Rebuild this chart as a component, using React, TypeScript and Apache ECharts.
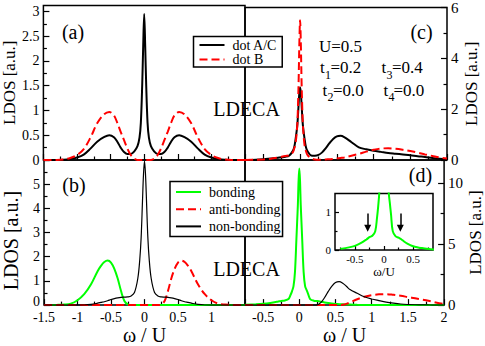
import React, { useEffect, useRef } from 'react';
import * as echarts from 'echarts';

// ---------- data ----------
// panel (a): omega/U grid and LDOS values
const xA = [-1.5, -1.3, -1.2, -1.1, -1.0, -0.9, -0.8, -0.7, -0.6, -0.52, -0.45, -0.4, -0.35, -0.3, -0.25, -0.2, -0.15, -0.1, -0.07, -0.05, -0.03, -0.015, 0, 0.015, 0.03, 0.05, 0.07, 0.1, 0.15, 0.2, 0.25, 0.3, 0.35, 0.4, 0.45, 0.52, 0.6, 0.7, 0.8, 0.9, 1.0, 1.1, 1.2, 1.3, 1.5];
const dotAC_a = [0, 0, 0.005, 0.02, 0.05, 0.11, 0.23, 0.37, 0.46, 0.5, 0.46, 0.37, 0.25, 0.16, 0.12, 0.12, 0.17, 0.28, 0.45, 0.75, 1.5, 2.3, 2.95, 2.3, 1.5, 0.75, 0.45, 0.28, 0.17, 0.12, 0.12, 0.16, 0.25, 0.37, 0.46, 0.5, 0.46, 0.37, 0.23, 0.11, 0.05, 0.02, 0.005, 0, 0];
const dotB_a = [0, 0, 0.01, 0.04, 0.1, 0.22, 0.45, 0.74, 0.92, 0.97, 0.9, 0.75, 0.57, 0.4, 0.23, 0.1, 0.03, 0, 0, 0, 0, 0, 0, 0, 0, 0, 0, 0, 0.03, 0.1, 0.23, 0.4, 0.57, 0.75, 0.9, 0.97, 0.92, 0.74, 0.45, 0.22, 0.1, 0.04, 0.01, 0, 0];

// panel (c)
const xC = [-0.75, -0.6, -0.5, -0.4, -0.3, -0.2, -0.15, -0.1, -0.08, -0.06, -0.04, -0.03, -0.02, -0.01, 0, 0.01, 0.02, 0.03, 0.04, 0.06, 0.08, 0.1, 0.15, 0.2, 0.25, 0.3, 0.35, 0.4, 0.45, 0.5, 0.55, 0.6, 0.7, 0.8, 0.9, 1.0, 1.1, 1.2, 1.3, 1.4, 1.5, 1.6, 1.7, 1.8, 1.9, 2.0];
const dotAC_c = [0, 0.01, 0.03, 0.06, 0.09, 0.13, 0.17, 0.35, 0.5, 0.85, 1.3, 1.7, 2.2, 2.65, 2.85, 2.65, 2.2, 1.7, 1.3, 0.85, 0.5, 0.35, 0.18, 0.17, 0.2, 0.3, 0.47, 0.66, 0.83, 0.93, 0.95, 0.9, 0.7, 0.5, 0.42, 0.36, 0.32, 0.28, 0.25, 0.22, 0.19, 0.15, 0.12, 0.08, 0.05, 0.03];
const dotB_c = [0, 0.01, 0.02, 0.05, 0.1, 0.16, 0.18, 0.3, 0.45, 0.7, 1.3, 2.0, 3.1, 4.6, 5.5, 4.6, 3.1, 2.0, 1.3, 0.6, 0.35, 0.2, 0.07, 0.02, 0.01, 0.01, 0.02, 0.03, 0.04, 0.06, 0.08, 0.1, 0.17, 0.24, 0.33, 0.4, 0.45, 0.46, 0.44, 0.4, 0.35, 0.29, 0.22, 0.16, 0.1, 0.06];

// panel (b)
const xB = [-1.5, -1.3, -1.2, -1.1, -1.0, -0.9, -0.8, -0.7, -0.65, -0.6, -0.55, -0.5, -0.45, -0.4, -0.35, -0.3, -0.25, -0.2, -0.15, -0.1, -0.07, -0.05, -0.03, -0.015, 0, 0.015, 0.03, 0.05, 0.07, 0.1, 0.15, 0.2, 0.25, 0.3, 0.35, 0.4, 0.45, 0.5, 0.55, 0.6, 0.65, 0.7, 0.8, 0.9, 1.0, 1.1, 1.2, 1.3, 1.5];
const bonding_b = [0, 0.01, 0.02, 0.06, 0.2, 0.45, 0.85, 1.4, 1.62, 1.78, 1.84, 1.76, 1.5, 1.1, 0.58, 0.17, 0.03, 0, 0, 0, 0, 0, 0, 0, 0, 0, 0, 0, 0, 0, 0, 0, 0, 0, 0, 0, 0, 0, 0, 0, 0, 0, 0, 0, 0, 0, 0, 0, 0];
const antiBonding_b = [0, 0, 0, 0, 0, 0, 0, 0, 0, 0, 0, 0, 0, 0, 0, 0, 0, 0, 0, 0, 0, 0, 0, 0, 0, 0, 0, 0, 0, 0, 0, 0, 0.03, 0.17, 0.58, 1.1, 1.5, 1.76, 1.84, 1.78, 1.62, 1.4, 0.85, 0.45, 0.2, 0.06, 0.02, 0.01, 0];
const nonBonding_b = [0, 0, 0, 0, 0, 0.005, 0.03, 0.08, 0.11, 0.14, 0.18, 0.23, 0.27, 0.3, 0.32, 0.33, 0.34, 0.38, 0.52, 1.1, 1.9, 2.8, 4.3, 5.4, 5.95, 5.4, 4.3, 2.8, 1.9, 1.1, 0.52, 0.38, 0.34, 0.33, 0.32, 0.3, 0.27, 0.23, 0.18, 0.14, 0.11, 0.08, 0.03, 0.005, 0, 0, 0, 0, 0];

// panel (d) and inset
const xD = [-0.75, -0.6, -0.5, -0.4, -0.3, -0.25, -0.2, -0.15, -0.12, -0.1, -0.08, -0.06, -0.04, -0.03, -0.02, -0.01, 0, 0.01, 0.02, 0.03, 0.04, 0.06, 0.08, 0.1, 0.12, 0.15, 0.2, 0.25, 0.3, 0.35, 0.4, 0.45, 0.5, 0.55, 0.6, 0.65, 0.7, 0.8, 0.9, 1.0, 1.1, 1.2, 1.3, 1.4, 1.5, 1.6, 1.7, 1.8, 1.9, 2.0];
const bonding_d = [0.03, 0.07, 0.11, 0.18, 0.28, 0.34, 0.38, 0.5, 0.85, 1.15, 1.55, 2.7, 5.4, 6.8, 8.2, 10.2, 11.2, 10.2, 8.2, 6.8, 5.4, 2.7, 1.55, 1.25, 0.95, 0.5, 0.36, 0.33, 0.28, 0.22, 0.17, 0.13, 0.1, 0.08, 0.06, 0.05, 0.04, 0.02, 0.01, 0, 0, 0, 0, 0, 0, 0, 0, 0, 0, 0];
const antiBonding_d = [0, 0, 0, 0, 0, 0, 0, 0, 0, 0, 0, 0, 0, 0, 0, 0, 0, 0, 0, 0, 0, 0, 0, 0, 0, 0, 0, 0, 0, 0, 0, 0, 0, 0, 0.02, 0.1, 0.22, 0.48, 0.68, 0.81, 0.88, 0.9, 0.84, 0.76, 0.66, 0.56, 0.45, 0.33, 0.2, 0.1];
const nonBonding_d = [0, 0, 0, 0, 0, 0, 0, 0, 0, 0, 0, 0, 0, 0, 0, 0, 0, 0, 0, 0, 0, 0, 0, 0, 0, 0, 0, 0.02, 0.22, 0.62, 1.12, 1.55, 1.85, 1.93, 1.8, 1.55, 1.27, 0.97, 0.68, 0.5, 0.37, 0.25, 0.16, 0.09, 0.05, 0.03, 0.02, 0.01, 0, 0];

// inset arrows (omega/U positions and heights)
const arrowX = [-0.28, 0.28];
const arrowFrom = 0.97;
const arrowTo = 0.58;

// ticks and tick labels
const xLeftMajor = [-1.5, -1, -0.5, 0, 0.5, 1, 1.5];
const xLeftMinor = [-1.25, -0.75, -0.25, 0.25, 0.75, 1.25];
const xLeftLabels = [-1.5, -1, -0.5, 0, 0.5, 1];
const xRightMajor = [-0.5, 0, 0.5, 1, 1.5, 2];
const xRightMinor = [-0.25, 0.25, 0.75, 1.25, 1.75];
const yTLMajor = [0, 0.5, 1, 1.5, 2, 2.5, 3];
const yTLMinor = [0.25, 0.75, 1.25, 1.75, 2.25, 2.75];
const yTRMajor = [0, 2, 4, 6];
const yTRMinor = [1, 3, 5];
const yBLMajor = [0, 1, 2, 3, 4, 5, 6];
const yBLMinor = [0.5, 1.5, 2.5, 3.5, 4.5, 5.5];
const yBLLabels = [0, 1, 2, 3, 4, 5];
const yBRMajor = [0, 5, 10];
const yBRMinor = [2.5, 7.5];
const insetXMajor = [-0.5, 0, 0.5];
const insetXMinor = [-0.75, -0.25, 0.25, 0.75];
const insetYMajor = [0, 1];
const insetYMinor = [0.5];

const legendTop = ['dot A/C', 'dot B'];
const legendBottom = ['bonding', 'anti-bonding', 'non-bonding'];

// ---------- styling ----------
const SERIF = 'Liberation Serif, Times New Roman, serif';
const BLACK = '#000000';
const RED = '#ff0000';
const GREEN = '#00ff00';

const mkAxis = (
  gridIndex: number,
  position: string,
  min: number,
  max: number,
  ticks: number[],
  tickLen: number,
  labels: number[] | null,
  fontSize: number,
  margin: number,
  extra: any = {},
  labelExtra: any = {}
) => ({
  type: 'value',
  gridIndex,
  position,
  min,
  max,
  axisLine: { show: false, onZero: false },
  splitLine: { show: false },
  minorTick: { show: false },
  axisTick: {
    show: true,
    inside: true,
    length: tickLen,
    customValues: ticks,
    lineStyle: { color: BLACK, width: 1.2 },
  },
  axisLabel: labels
    ? {
        show: true,
        customValues: labels,
        color: BLACK,
        fontFamily: SERIF,
        fontSize,
        margin,
        showMinLabel: true,
        showMaxLabel: true,
        ...labelExtra,
      }
    : { show: false },
  axisPointer: { show: false },
  ...extra,
});

const yName = (fontSize: number, gap: number, padding: number[] = [0, 0, 0, 0]) => ({
  name: 'LDOS [a.u.]',
  nameLocation: 'middle',
  nameRotate: 90,
  nameGap: gap,
  nameTextStyle: { fontFamily: SERIF, fontSize, color: BLACK, padding },
});
const xName = (text: string, fontSize: number, gap: number) => ({
  name: text,
  nameLocation: 'middle',
  nameGap: gap,
  nameTextStyle: { fontFamily: SERIF, fontSize, color: BLACK },
});

const line = (
  name: string,
  xs: number[],
  ys: number[],
  idx: number,
  color: string,
  width: number,
  dashed: boolean,
  extra: any = {}
) => ({
  type: 'line',
  name,
  xAxisIndex: idx,
  yAxisIndex: idx,
  data: xs.map((x, i) => [x, ys[i]]),
  showSymbol: false,
  symbol: 'none',
  smooth: 0.35,
  clip: true,
  silent: true,
  lineStyle: { color, width, type: dashed ? [8, 4] : 'solid' },
  itemStyle: { color },
  emphasis: { disabled: true },
  ...extra,
});

const txt = (text: string, x: number, y: number, size: number, align = 'center') => ({
  type: 'text',
  x,
  y,
  silent: true,
  style: {
    text,
    fill: BLACK,
    fontFamily: SERIF,
    fontSize: size,
    align,
    verticalAlign: 'middle',
    textAlign: align,
    textVerticalAlign: 'middle',
  },
});

const legendBase = {
  orient: 'vertical',
  itemWidth: 25,
  itemHeight: 14,
  borderColor: BLACK,
  borderWidth: 1.5,
  backgroundColor: '#ffffff',
  selectedMode: false,
  itemStyle: { opacity: 0 },
  textStyle: { fontFamily: SERIF, fontSize: 14, color: BLACK, padding: [0, 0, 0, 3] },
};

// the lowest left label of panel (b) sits a little above its tick, clear of the x labels
const blLabelExtra = {
  formatter: (v: number) => (v === 0 ? '{z|0}' : String(v)),
  rich: { z: { fontFamily: SERIF, fontSize: 14, color: BLACK, padding: [0, 0, 7, 0] } },
};

export default function App() {
  const ref = useRef<HTMLDivElement>(null);

  useEffect(() => {
    if (!ref.current) return;
    const chart = echarts.init(ref.current, null, { renderer: 'svg' });

    const gridBase = { show: true, borderColor: BLACK, borderWidth: 1.5, backgroundColor: 'transparent', containLabel: false };

    const option: any = {
      animation: false,
      backgroundColor: '#ffffff',
      textStyle: { fontFamily: SERIF, color: BLACK },
      grid: [
        { ...gridBase, left: 41, top: 5.5, width: 204, height: 154.5 },
        { ...gridBase, left: 245, top: 5.5, width: 202, height: 154.5 },
        { ...gridBase, left: 41, top: 160, width: 204, height: 153 },
        { ...gridBase, left: 245, top: 160, width: 202, height: 153 },
        { ...gridBase, left: 335, top: 193.5, width: 98, height: 56.5, backgroundColor: '#ffffff', z: 3 },
      ],
      xAxis: [
        mkAxis(0, 'bottom', -1.5, 1.5, xLeftMajor, 6, null, 14, 4),
        mkAxis(1, 'bottom', -0.75, 2, xRightMajor, 6, null, 14, 4),
        mkAxis(2, 'bottom', -1.5, 1.5, xLeftMajor, 6, xLeftLabels, 14, 5, xName('ω / U', 20, 15)),
        mkAxis(3, 'bottom', -0.75, 2, xRightMajor, 6, xRightMajor, 14, 5, xName('ω / U', 20, 15)),
        mkAxis(4, 'bottom', -0.84, 0.84, insetXMajor, 4, insetXMajor, 11, 3, { ...xName('ω/U', 13, 12), z: 4 }),
        mkAxis(0, 'bottom', -1.5, 1.5, xLeftMinor, 3.5, null, 14, 4),
        mkAxis(1, 'bottom', -0.75, 2, xRightMinor, 3.5, null, 14, 4),
        mkAxis(2, 'bottom', -1.5, 1.5, xLeftMinor, 3.5, null, 14, 4),
        mkAxis(3, 'bottom', -0.75, 2, xRightMinor, 3.5, null, 14, 4),
        mkAxis(4, 'bottom', -0.84, 0.84, insetXMinor, 2.5, null, 11, 3, { z: 4 }),
      ],
      yAxis: [
        mkAxis(0, 'left', 0, 3.12, yTLMajor, 6, yTLMajor, 14, 4, yName(17, 24)),
        mkAxis(1, 'right', 0, 6, yTRMajor, 6, yTRMajor, 15, 4, yName(17, 16)),
        mkAxis(2, 'left', 0, 6, yBLMajor, 6, yBLLabels, 14, 4, yName(20, 23, [0, 16, 0, 0]), blLabelExtra),
        mkAxis(3, 'right', 0, 11.9, yBRMajor, 6, yBRMajor, 15, 4, yName(17, 16)),
        mkAxis(4, 'left', 0, 1.5, insetYMajor, 4, insetYMajor, 11, 4, { z: 4 }),
        mkAxis(0, 'left', 0, 3.12, yTLMinor, 3.5, null, 14, 4),
        mkAxis(1, 'right', 0, 6, yTRMinor, 3.5, null, 14, 4),
        mkAxis(2, 'left', 0, 6, yBLMinor, 3.5, null, 14, 4),
        mkAxis(3, 'right', 0, 11.9, yBRMinor, 3.5, null, 14, 4),
        mkAxis(4, 'left', 0, 1.5, insetYMinor, 2.5, null, 11, 4, { z: 4 }),
      ],
      legend: [
        {
          ...legendBase,
          data: legendTop,
          left: 193.5,
          top: 36.5,
          itemGap: 0.5,
          padding: [1.5, 5, 0.5, 5],
        },
        {
          ...legendBase,
          data: legendBottom,
          left: 170,
          top: 181.5,
          itemGap: 3.2,
          padding: [3.5, 2, 3, 5],
        },
      ],
      series: [
        line('dot A/C', xA, dotAC_a, 0, BLACK, 2, false),
        line('dot B', xA, dotB_a, 0, RED, 2, true),
        line('dot A/C', xC, dotAC_c, 1, BLACK, 2, false),
        line('dot B', xC, dotB_c, 1, RED, 2, true),
        line('bonding', xB, bonding_b, 2, GREEN, 2, false),
        line('anti-bonding', xB, antiBonding_b, 2, RED, 2, true),
        line('non-bonding', xB, nonBonding_b, 2, BLACK, 1.2, false),
        line('bonding', xD, bonding_d, 3, GREEN, 2, false),
        line('anti-bonding', xD, antiBonding_d, 3, RED, 2, true),
        line('non-bonding', xD, nonBonding_d, 3, BLACK, 1.2, false),
        line('bonding (inset)', xD, bonding_d, 4, GREEN, 2, false, {
          z: 5,
          markLine: {
            silent: true,
            animation: false,
            symbol: ['none', 'triangle'],
            symbolSize: 7,
            label: { show: false },
            lineStyle: { color: BLACK, width: 1.5, type: 'solid' },
            emphasis: { disabled: true },
            data: arrowX.map((x) => [{ coord: [x, arrowFrom] }, { coord: [x, arrowTo] }]),
          },
        }),
      ],
      graphic: [
        txt('(a)', 73, 32, 20),
        txt('(b)', 74, 185, 20),
        txt('(c)', 421.5, 32, 20),
        txt('(d)', 420.5, 175, 20),
        txt('LDECA', 246.5, 109, 20),
        txt('LDECA', 246.5, 269, 20),
        txt('U=0.5', 319, 46.5, 17, 'left'),
        txt('t', 320, 67, 17, 'left'),
        txt('1', 325, 74.5, 12, 'left'),
        txt('=0.2', 330.5, 67, 17, 'left'),
        txt('t', 322.5, 90, 17, 'left'),
        txt('2', 327.5, 96.5, 12, 'left'),
        txt('=0.0', 333, 90, 17, 'left'),
        txt('t', 381.5, 67, 17, 'left'),
        txt('3', 386.5, 74.5, 12, 'left'),
        txt('=0.4', 392, 67, 17, 'left'),
        txt('t', 383.5, 90, 17, 'left'),
        txt('4', 388.5, 96.5, 12, 'left'),
        txt('=0.0', 393.5, 90, 17, 'left'),
      ],
    };

    chart.setOption(option);
    return () => {
      chart.dispose();
    };
  }, []);

  return (
    <div
      ref={ref}
      style={{ position: 'absolute', left: 0, top: 0, width: 485, height: 346, background: '#ffffff' }}
    />
  );
}
